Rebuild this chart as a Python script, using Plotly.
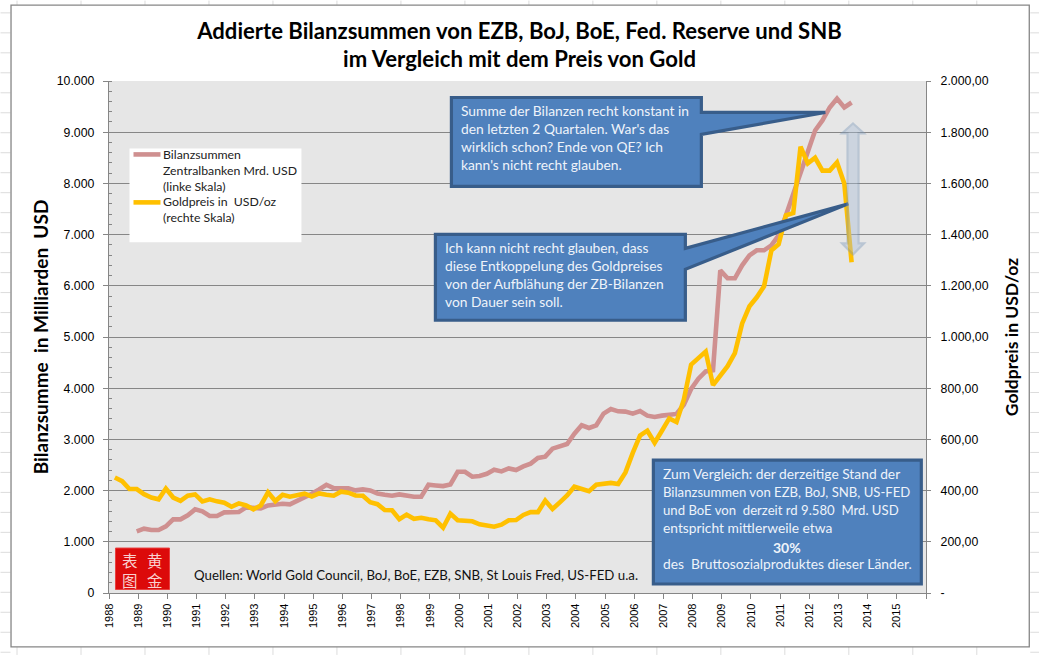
import plotly.graph_objects as go

# quarterly readings from mid 1988 to mid 2013, gold has 102 points, balance sheets start 3 later
gold_usd = [
    451, 437, 406, 406, 386, 373, 366, 408, 373, 360, 380, 385, 358, 366, 358, 353, 337, 350, 342, 327,
    342, 393, 359, 384, 376, 384, 388, 377, 389, 384, 380, 396, 392, 381, 380, 355, 347, 324, 323, 288,
    306, 290, 294, 288, 284, 255, 310, 284, 280, 280, 268, 263, 259, 267, 284, 285, 305, 316, 316, 361,
    328, 354, 381, 415, 407, 398, 423, 427, 430, 426, 471, 547, 615, 634, 587, 634, 682, 668, 755, 892,
    915, 943, 812, 851, 886, 937, 1053, 1120, 1155, 1198, 1338, 1362, 1475, 1484, 1743, 1678, 1700, 1650,
    1650, 1682, 1600, 1292,
]
balance_bn = [
    None, None, None,
    1204, 1256, 1230, 1230, 1301, 1438, 1438, 1516, 1633, 1594, 1503, 1503, 1574, 1574, 1581, 1672, 1653,
    1653, 1711, 1724, 1744, 1731, 1796, 1874, 1939, 2023, 2114, 2049, 2043, 2043, 2004, 2023, 2004, 1945,
    1919, 1900, 1926, 1900, 1880, 1880, 2114, 2101, 2088, 2121, 2368, 2368, 2271, 2284, 2329, 2407, 2375,
    2433, 2401, 2474, 2526, 2637, 2663, 2819, 2871, 2910, 3112, 3275, 3223, 3275, 3503, 3594, 3548, 3542,
    3503, 3555, 3464, 3438, 3464, 3490, 3497, 3678, 3984, 4186, 4329, 4351, 6302, 6146, 6146, 6400, 6595,
    6693, 6693, 6790, 6985, 7376, 7805, 8215, 8644, 9034, 9229, 9483, 9656, 9483, 9580,
]
quarters = [1988.2 + 0.25 * i for i in range(len(gold_usd))]

year_ticks = list(range(1988, 2017))
year_labels = [str(y) for y in range(1988, 2016)] + [""]
left_ticks = list(range(0, 11000, 1000))
left_labels = ["0", "1.000", "2.000", "3.000", "4.000", "5.000", "6.000", "7.000", "8.000", "9.000", "10.000"]
right_ticks = list(range(0, 2200, 200))
right_labels = ["-", "200,00", "400,00", "600,00", "800,00", "1.000,00", "1.200,00", "1.400,00",
                "1.600,00", "1.800,00", "2.000,00"]

# plot area in page pixels
L, R, T, B = 108.5, 925.7, 80.5, 593.0
W, H = R - L, B - T
AXIS = "#868686"
BOX_FILL = "#4f81bd"
BOX_LINE = "#385d8a"
PINK = "#cf9090"
GOLD = "#ffc000"
TEXT_FONT = "Lato"


def px(x):
    return (x - L) / W


def py(y):
    return (B - y) / H


def path(points):
    return "M " + " L ".join(f"{px(x):.5f},{py(y):.5f}" for x, y in points) + " Z"


def shape(points, fill, line, width, opacity=1):
    return dict(type="path", xref="paper", yref="paper", path=path(points), fillcolor=fill,
                line=dict(color=line, width=width), layer="above", opacity=opacity)


def note(x, y, text, size=13.8, color="#eef3fa", align="left", xanchor="left", yanchor="top", font=TEXT_FONT):
    return dict(x=px(x), y=py(y), xref="paper", yref="paper", text=text, showarrow=False, align=align,
                xanchor=xanchor, yanchor=yanchor, font=dict(family=font, size=size, color=color),
                borderpad=0, borderwidth=0)


shapes = []
# worksheet cells around the chart
for k in range(17):
    x = 16.5 + 64 * k
    for y0, y1 in [(0, 4.5), (647, 655)]:
        shapes.append(dict(type="line", xref="paper", yref="paper", x0=px(x), x1=px(x), y0=py(y0), y1=py(y1),
                           line=dict(color="#dcdcdc", width=1), layer="below"))
for k in range(33):
    y = 12.3 + 20 * k
    for x0, x1 in [(0, 10), (1030, 1039)]:
        shapes.append(dict(type="line", xref="paper", yref="paper", x0=px(x0), x1=px(x1), y0=py(y), y1=py(y),
                           line=dict(color="#dcdcdc", width=1), layer="below"))
# chart frame
shapes.append(dict(type="rect", xref="paper", yref="paper", x0=px(10.5), x1=px(1029), y0=py(647), y1=py(4.5),
                   line=dict(color="#868686", width=1.3), layer="below"))
# legend box and its line samples
shapes.append(dict(type="rect", xref="paper", yref="paper", x0=px(129), x1=px(301), y0=py(242), y1=py(148),
                   fillcolor="white", line=dict(width=0), layer="above"))
for y, color in [(154, PINK), (202, GOLD)]:
    shapes.append(dict(type="line", xref="paper", yref="paper", x0=px(133), x1=px(160), y0=py(y), y1=py(y),
                       line=dict(color=color, width=4.6), layer="above"))
# callouts
shapes.append(shape([(451, 97), (701, 97), (701, 112), (825, 112), (701, 134), (701, 186), (451, 186)],
                    BOX_FILL, BOX_LINE, 3.2))
shapes.append(shape([(435, 234), (685, 234), (685, 248), (848, 203.5), (685, 269), (685, 320), (435, 320)],
                    BOX_FILL, BOX_LINE, 3.2))
shapes.append(shape([(653, 460), (921, 460), (921, 584), (653, 584)], BOX_FILL, BOX_LINE, 3.2))
# double arrow
shapes.append(shape([(852.7, 123), (863.7, 133), (858.2, 133), (858.2, 243), (863.7, 243), (852.7, 254),
                     (841.7, 243), (847.2, 243), (847.2, 133), (841.7, 133)],
                    "#a9bdd6", "#7d99ba", 2.2, opacity=0.42))
# logo
shapes.append(dict(type="rect", xref="paper", yref="paper", x0=px(115), x1=px(169), y0=py(589.5), y1=py(548),
                   fillcolor="#dc0a0a", line=dict(color="#e84040", width=1), layer="above"))

annotations = [
    note(461, 102, "Summe der Bilanzen recht konstant in<br>den letzten 2 Quartalen. War's das<br>"
                   "wirklich schon? Ende von QE? Ich<br>kann's nicht recht glauben."),
    note(445, 239, "Ich kann nicht recht glauben, dass<br>diese Entkoppelung des Goldpreises<br>"
                   "von der Aufblähung der ZB-Bilanzen<br>von Dauer sein soll."),
    note(663, 465, "Zum Vergleich: der derzeitige Stand der<br>"
                   "<span style='font-size:13.15px'>Bilanzsummen von EZB, BoJ, SNB, US-FED</span><br>"
                   "<span style='font-size:13.15px'>und BoE von  derzeit rd 9.580  Mrd. USD</span><br>"
                   "entspricht mittlerweile etwa<br>\u00a0<br>"
                   "des  Bruttosozialproduktes dieser Länder."),
    note(787, 547, "<b>30%</b>", xanchor="center", yanchor="middle", size=14),
    note(194, 574.5, "Quellen: World Gold Council, BoJ, BoE, EZB, SNB, St Louis Fred, US-FED u.a.",
         color="#111111", yanchor="middle", size=13.25),
    note(163, 147, "Bilanzsummen<br>Zentralbanken Mrd. USD<br>(linke Skala)", size=12.3, color="#222222"),
    note(163, 194, "Goldpreis in  USD/oz<br>(rechte Skala)", size=12.3, color="#222222"),
    note(130, 569.5, "表<br>图", size=15.5, color="#f9d0d0", xanchor="center", yanchor="middle",
         font="Noto Sans CJK SC", align="center"),
    note(155, 569.5, "黄<br>金", size=15.5, color="#f9d0d0", xanchor="center", yanchor="middle",
         font="Noto Sans CJK SC", align="center"),
]

fig = go.Figure()
fig.add_trace(go.Scatter(
    x=quarters, y=balance_bn, mode="lines", name="Bilanzsummen Zentralbanken Mrd. USD (linke Skala)",
    line=dict(color=PINK, width=4.6), yaxis="y",
))
fig.add_trace(go.Scatter(
    x=quarters, y=gold_usd, mode="lines", name="Goldpreis in USD/oz (rechte Skala)",
    line=dict(color=GOLD, width=4.6), yaxis="y2",
))

fig.update_layout(
    width=1039,
    height=655,
    showlegend=False,
    margin=dict(l=L, r=1039 - R, t=T, b=655 - B, autoexpand=False),
    paper_bgcolor="white",
    plot_bgcolor="#e6e6e6",
    title=dict(
        text="<b>Addierte Bilanzsummen von EZB, BoJ, BoE, Fed. Reserve und SNB<br>"
             "im Vergleich mit dem Preis von Gold</b>",
        x=0.5, xanchor="center", y=0.941, yanchor="middle",
        font=dict(family=TEXT_FONT, size=22.1, color="black"),
    ),
    xaxis=dict(
        range=[1988, 2016], tickvals=year_ticks, ticktext=year_labels, tickangle=-90,
        ticks="outside", ticklen=5, tickcolor=AXIS, showline=True, linecolor=AXIS, linewidth=1.3,
        showgrid=False, zeroline=False,
        tickfont=dict(family="Liberation Sans", size=11, color="black"),
    ),
    yaxis=dict(
        range=[0, 10000], tickvals=left_ticks, ticktext=left_labels,
        ticks="outside", ticklen=5, tickcolor=AXIS, showline=True, linecolor=AXIS, linewidth=1.3,
        showgrid=True, gridcolor=AXIS, gridwidth=1.3, zeroline=False, ticklabelstandoff=6,
        minor=dict(ticks="inside", ticklen=3, dtick=200, tick0=0, tickcolor=AXIS, showgrid=False),
        tickfont=dict(family="Liberation Sans", size=12.3, color="black"),
        title=dict(text="<b>Bilanzsumme  in Milliarden  USD</b>", standoff=3,
                   font=dict(family=TEXT_FONT, size=19, color="black")),
    ),
    yaxis2=dict(
        range=[0, 2000], overlaying="y", side="right", tickvals=right_ticks, ticktext=right_labels,
        ticks="outside", ticklen=4, tickcolor=AXIS, showline=True, linecolor=AXIS, linewidth=1.3,
        showgrid=False, zeroline=False, ticklabelstandoff=7,
        tickfont=dict(family="Liberation Sans", size=12.3, color="black"),
        title=dict(text="<b>Goldpreis in USD/oz</b>", standoff=18,
                   font=dict(family=TEXT_FONT, size=17.5, color="black")),
    ),
    shapes=shapes,
    annotations=annotations,
)

fig.write_html(
    "out.html",
    config={"displayModeBar": False},
    post_script="document.body.style.margin='0';document.body.style.overflow='hidden';",
)
